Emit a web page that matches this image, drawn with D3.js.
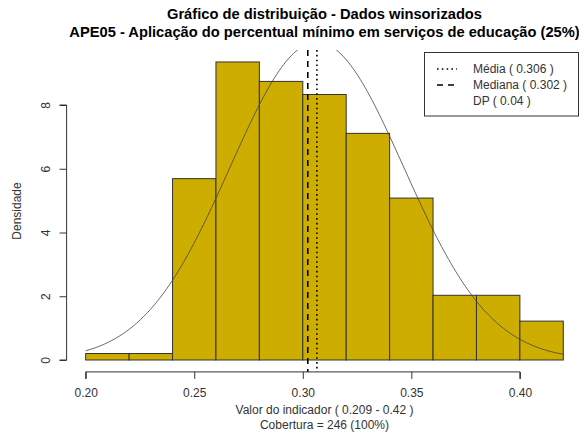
<!DOCTYPE html>
<html>
<head>
<meta charset="utf-8">
<script src="https://cdn.jsdelivr.net/npm/d3@7"></script>
<style>
  html, body { margin: 0; padding: 0; background: #fff; }
  svg { display: block; font-family: "Liberation Sans", Arial, Helvetica, sans-serif; }
</style>
</head>
<body>
<svg id="chart" width="579" height="436"></svg>
<script>
// ---- data ----
const binStarts = [0.20, 0.22, 0.24, 0.26, 0.28, 0.30, 0.32, 0.34, 0.36, 0.38, 0.40];
const binWidth = 0.02;
const densities = [0.203, 0.203, 5.69, 9.35, 8.74, 8.33, 7.11, 5.08, 2.03, 2.03, 1.22];
const meanVal = 0.3065;
const medianVal = 0.3023;
const sdVal = 0.04;
const xTicks = [0.20, 0.25, 0.30, 0.35, 0.40];
const yTicks = [0, 2, 4, 6, 8];
const titleLines = ["Gráfico de distribuição - Dados winsorizados",
                    "APE05 - Aplicação do percentual mínimo em serviços de educação (25%)"];
const xLabelLines = ["Valor do indicador ( 0.209 - 0.42 )", "Cobertura = 246 (100%)"];
const yLabel = "Densidade";
const legendLabels = ["Média ( 0.306 )", "Mediana ( 0.302 )", "DP ( 0.04 )"];

// ---- scales ----
const svg = d3.select("#chart");
const x = d3.scaleLinear().domain([0.20, 0.42]).range([85.7, 563.3]);
const y = d3.scaleLinear().domain([0, 8]).range([360, 105]);
const xMin = 0.20 - 0.04 * 0.22, xMax = 0.42 + 0.04 * 0.22;
const yTop = 9.35 * 1.04, yBot = -9.35 * 0.04;
const plotL = x(xMin), plotR = x(xMax), plotT = y(yTop), plotB = y(yBot);

svg.append("defs").append("clipPath").attr("id", "clip")
  .append("rect").attr("x", plotL).attr("y", plotT)
  .attr("width", plotR - plotL).attr("height", plotB - plotT);

const plot = svg.append("g").attr("clip-path", "url(#clip)");

// bars
plot.selectAll("rect.bar").data(binStarts).join("rect")
  .attr("class", "bar")
  .attr("x", (d) => x(d))
  .attr("width", (d) => x(d + binWidth) - x(d))
  .attr("y", (d, i) => y(densities[i]))
  .attr("height", (d, i) => y(0) - y(densities[i]))
  .attr("fill", "#CDAD00")
  .attr("stroke", "#333")
  .attr("stroke-width", 1);

// normal curve
const curvePts = d3.range(0, 201).map(i => {
  const xv = 0.20 + (0.22 * i) / 200;
  const z = (xv - meanVal) / sdVal;
  return [xv, Math.exp(-0.5 * z * z) / (sdVal * Math.sqrt(2 * Math.PI))];
});
plot.append("path").datum(curvePts)
  .attr("d", d3.line().x(d => x(d[0])).y(d => y(d[1])))
  .attr("fill", "none").attr("stroke", "#444").attr("stroke-width", 0.8);

// mean / median lines
plot.append("line").attr("x1", x(medianVal)).attr("x2", x(medianVal))
  .attr("y1", plotT).attr("y2", plotB)
  .attr("stroke", "#000").attr("stroke-width", 1.6).attr("stroke-dasharray", "6,5");
plot.append("line").attr("x1", x(meanVal)).attr("x2", x(meanVal))
  .attr("y1", plotT).attr("y2", plotB)
  .attr("stroke", "#000").attr("stroke-width", 1.6).attr("stroke-dasharray", "1.6,3.2");

// x axis
const xAxis = svg.append("g").attr("transform", `translate(0,${plotB})`)
  .call(d3.axisBottom(x).tickValues(xTicks).tickFormat(d3.format(".2f")).tickSize(7).tickPadding(10));
xAxis.select(".domain").attr("d", `M${x(0.20)},7V0H${x(0.40)}V7`).attr("stroke", "#333");
xAxis.selectAll(".tick line").attr("stroke", "#333");
xAxis.selectAll("text").attr("font-size", 12).attr("fill", "#333")
  .attr("font-family", "Liberation Sans, Arial, sans-serif");

// y axis
const yAxis = svg.append("g").attr("transform", `translate(${plotL},0)`)
  .call(d3.axisLeft(y).tickValues(yTicks).tickSize(7).tickPadding(0));
yAxis.select(".domain").attr("d", `M-7,${y(0)}H0V${y(8)}H-7`).attr("stroke", "#333");
yAxis.selectAll(".tick line").attr("stroke", "#333");
yAxis.selectAll("text")
  .attr("font-size", 12).attr("fill", "#333")
  .attr("font-family", "Liberation Sans, Arial, sans-serif")
  .attr("x", null).attr("dy", null)
  .attr("text-anchor", "middle")
  .attr("transform", "translate(-17,0) rotate(-90)")
  .attr("y", 0);

// axis titles
svg.append("text").attr("x", 17).attr("y", (plotT + plotB) / 2)
  .attr("transform", `rotate(-90,17,${(plotT + plotB) / 2})`)
  .attr("text-anchor", "middle").attr("dominant-baseline", "central")
  .attr("font-size", 12).attr("fill", "#333").text(yLabel);

const cx = (plotL + plotR) / 2;
svg.selectAll("text.xlab").data(xLabelLines).join("text")
  .attr("class", "xlab")
  .attr("x", cx).attr("y", (d, i) => 414 + i * 14.5)
  .attr("text-anchor", "middle").attr("font-size", 12).attr("fill", "#333")
  .text(d => d);

// titles
svg.selectAll("text.title").data(titleLines).join("text")
  .attr("class", "title")
  .attr("x", cx).attr("y", (d, i) => 19 + i * 18)
  .attr("text-anchor", "middle").attr("font-size", 14.7).attr("font-weight", "bold")
  .attr("fill", "#000")
  .text(d => d);

// legend
const lg = svg.append("g");
lg.append("rect").attr("x", 424.5).attr("y", 52.5).attr("width", 154).attr("height", 63.5)
  .attr("fill", "#fff").attr("stroke", "#333").attr("stroke-width", 1);
const legDash = ["1.6,3.2", "6,5", null];
legendLabels.forEach((lab, i) => {
  const ly = 69 + i * 16;
  if (legDash[i]) {
    lg.append("line").attr("x1", 437).attr("x2", 457).attr("y1", ly).attr("y2", ly)
      .attr("stroke", "#000").attr("stroke-width", 1.6).attr("stroke-dasharray", legDash[i]);
  }
  lg.append("text").attr("x", 473).attr("y", ly).attr("dominant-baseline", "central")
    .attr("font-size", 12).attr("fill", "#333").text(lab);
});
</script>
</body>
</html>
